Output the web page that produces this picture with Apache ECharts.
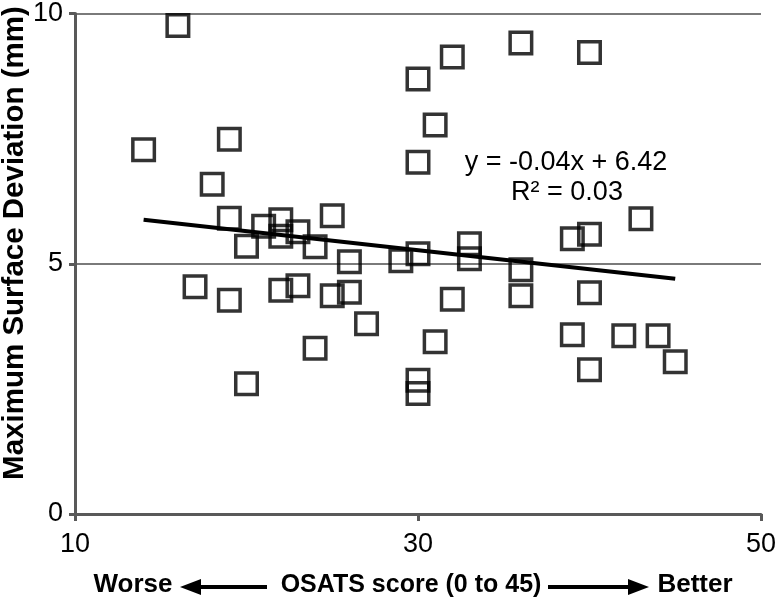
<!DOCTYPE html>
<html>
<head>
<meta charset="utf-8">
<script src="https://cdn.jsdelivr.net/npm/echarts@6/dist/echarts.min.js"></script>
<style>
html,body{margin:0;padding:0;background:#fff;}
#chart{width:779px;height:601px;}
</style>
</head>
<body>
<div id="chart"></div>
<script>
// OSATS score (x) and maximum surface deviation in mm (y)
var osatsScore = [14, 16, 17, 18, 19, 19, 19, 20, 20, 21, 22, 22, 22, 23, 23, 24, 24, 25, 25, 26, 26, 27, 29, 30, 30, 30, 30, 30, 31, 31, 32, 32, 33, 33, 36, 36, 36, 39, 39, 40, 40, 40, 40, 42, 43, 44, 45];
var maxDeviation = [7.28, 9.76, 4.54, 6.59, 7.49, 5.91, 4.27, 5.35, 2.60, 5.75, 5.88, 5.55, 4.47, 5.64, 4.56, 5.34, 3.31, 5.96, 4.36, 5.04, 4.43, 3.80, 5.06, 8.69, 7.03, 5.20, 2.67, 2.41, 7.77, 3.44, 9.13, 4.29, 5.40, 5.10, 9.41, 4.88, 4.36, 5.50, 3.58, 9.22, 5.59, 4.42, 2.88, 3.56, 5.90, 3.56, 3.04];
// Linear trend line end points (as drawn)
var trendX = [14, 45];
var trendY = [5.88, 4.70];
// Axis ticks
var xTicks = [10, 30, 50];
var yTicks = [0, 5, 10];
var equationText = 'y = -0.04x + 6.42';
var r2Text = 'R\u00b2 = 0.03';
var yTitle = 'Maximum Surface Deviation (mm)';
var xTitleLeft = 'Worse';
var xTitleMid = 'OSATS score (0 to 45)';
var xTitleRight = 'Better';

var FONT = '"Liberation Sans", Arial, Helvetica, sans-serif';
var scatterData = osatsScore.map(function (x, i) { return [x, maxDeviation[i]]; });
var trendData = trendX.map(function (x, i) { return [x, trendY[i]]; });

var chart = echarts.init(document.getElementById('chart'), null, {renderer: 'canvas'});
var option = {
  animation: false,
  backgroundColor: '#ffffff',
  grid: {left: 75, right: 16, top: 11, bottom: 87, containLabel: false},
  xAxis: {
    type: 'value',
    min: xTicks[0], max: xTicks[xTicks.length - 1], interval: xTicks[1] - xTicks[0],
    axisLine: {show: true, lineStyle: {color: '#595959', width: 3}},
    axisTick: {show: true, length: 7, lineStyle: {color: '#595959', width: 3}},
    axisLabel: {color: '#000', fontSize: 27, fontFamily: FONT, margin: 17},
    splitLine: {show: false}
  },
  yAxis: {
    type: 'value',
    min: yTicks[0], max: yTicks[yTicks.length - 1], interval: yTicks[1] - yTicks[0],
    axisLine: {show: true, lineStyle: {color: '#595959', width: 3}},
    axisTick: {show: true, length: 6, lineStyle: {color: '#595959', width: 3}},
    axisLabel: {color: '#000', fontSize: 27, fontFamily: FONT, margin: 12},
    splitLine: {show: true, lineStyle: {color: '#7a7a7a', width: 2}}
  },
  series: [
    {
      type: 'line',
      data: trendData,
      symbol: 'none',
      lineStyle: {color: '#000', width: 4},
      z: 2
    },
    {
      type: 'scatter',
      data: scatterData,
      symbol: 'rect',
      symbolSize: 21.5,
      itemStyle: {color: 'rgba(0,0,0,0)', borderColor: '#000', borderWidth: 3.5},
      z: 3
    }
  ],
  graphic: [
    {type: 'text', x: 566, y: 163, style: {text: equationText, font: '27px ' + FONT, fill: '#000', textAlign: 'center', textVerticalAlign: 'middle'}},
    {type: 'text', x: 567, y: 193, style: {text: r2Text, font: '27px ' + FONT, fill: '#000', textAlign: 'center', textVerticalAlign: 'middle'}},
    {type: 'text', x: 15, y: 243, rotation: Math.PI / 2, style: {text: yTitle, font: 'bold 29.5px ' + FONT, fill: '#000', textAlign: 'center', textVerticalAlign: 'middle'}},
    {type: 'text', x: 133, y: 585, style: {text: xTitleLeft, font: 'bold 26px ' + FONT, fill: '#000', textAlign: 'center', textVerticalAlign: 'middle'}},
    {type: 'text', x: 411, y: 585, style: {text: xTitleMid, font: 'bold 25px ' + FONT, fill: '#000', textAlign: 'center', textVerticalAlign: 'middle'}},
    {type: 'text', x: 695, y: 585, style: {text: xTitleRight, font: 'bold 26px ' + FONT, fill: '#000', textAlign: 'center', textVerticalAlign: 'middle'}},
    {type: 'line', shape: {x1: 195, y1: 587, x2: 267, y2: 587}, style: {stroke: '#000', lineWidth: 4}},
    {type: 'polygon', shape: {points: [[180, 587], [201, 579], [201, 595]]}, style: {fill: '#000'}},
    {type: 'line', shape: {x1: 548, y1: 587, x2: 634, y2: 587}, style: {stroke: '#000', lineWidth: 4}},
    {type: 'polygon', shape: {points: [[649, 587], [628, 579], [628, 595]]}, style: {fill: '#000'}}
  ]
};
chart.setOption(option);
</script>
</body>
</html>
